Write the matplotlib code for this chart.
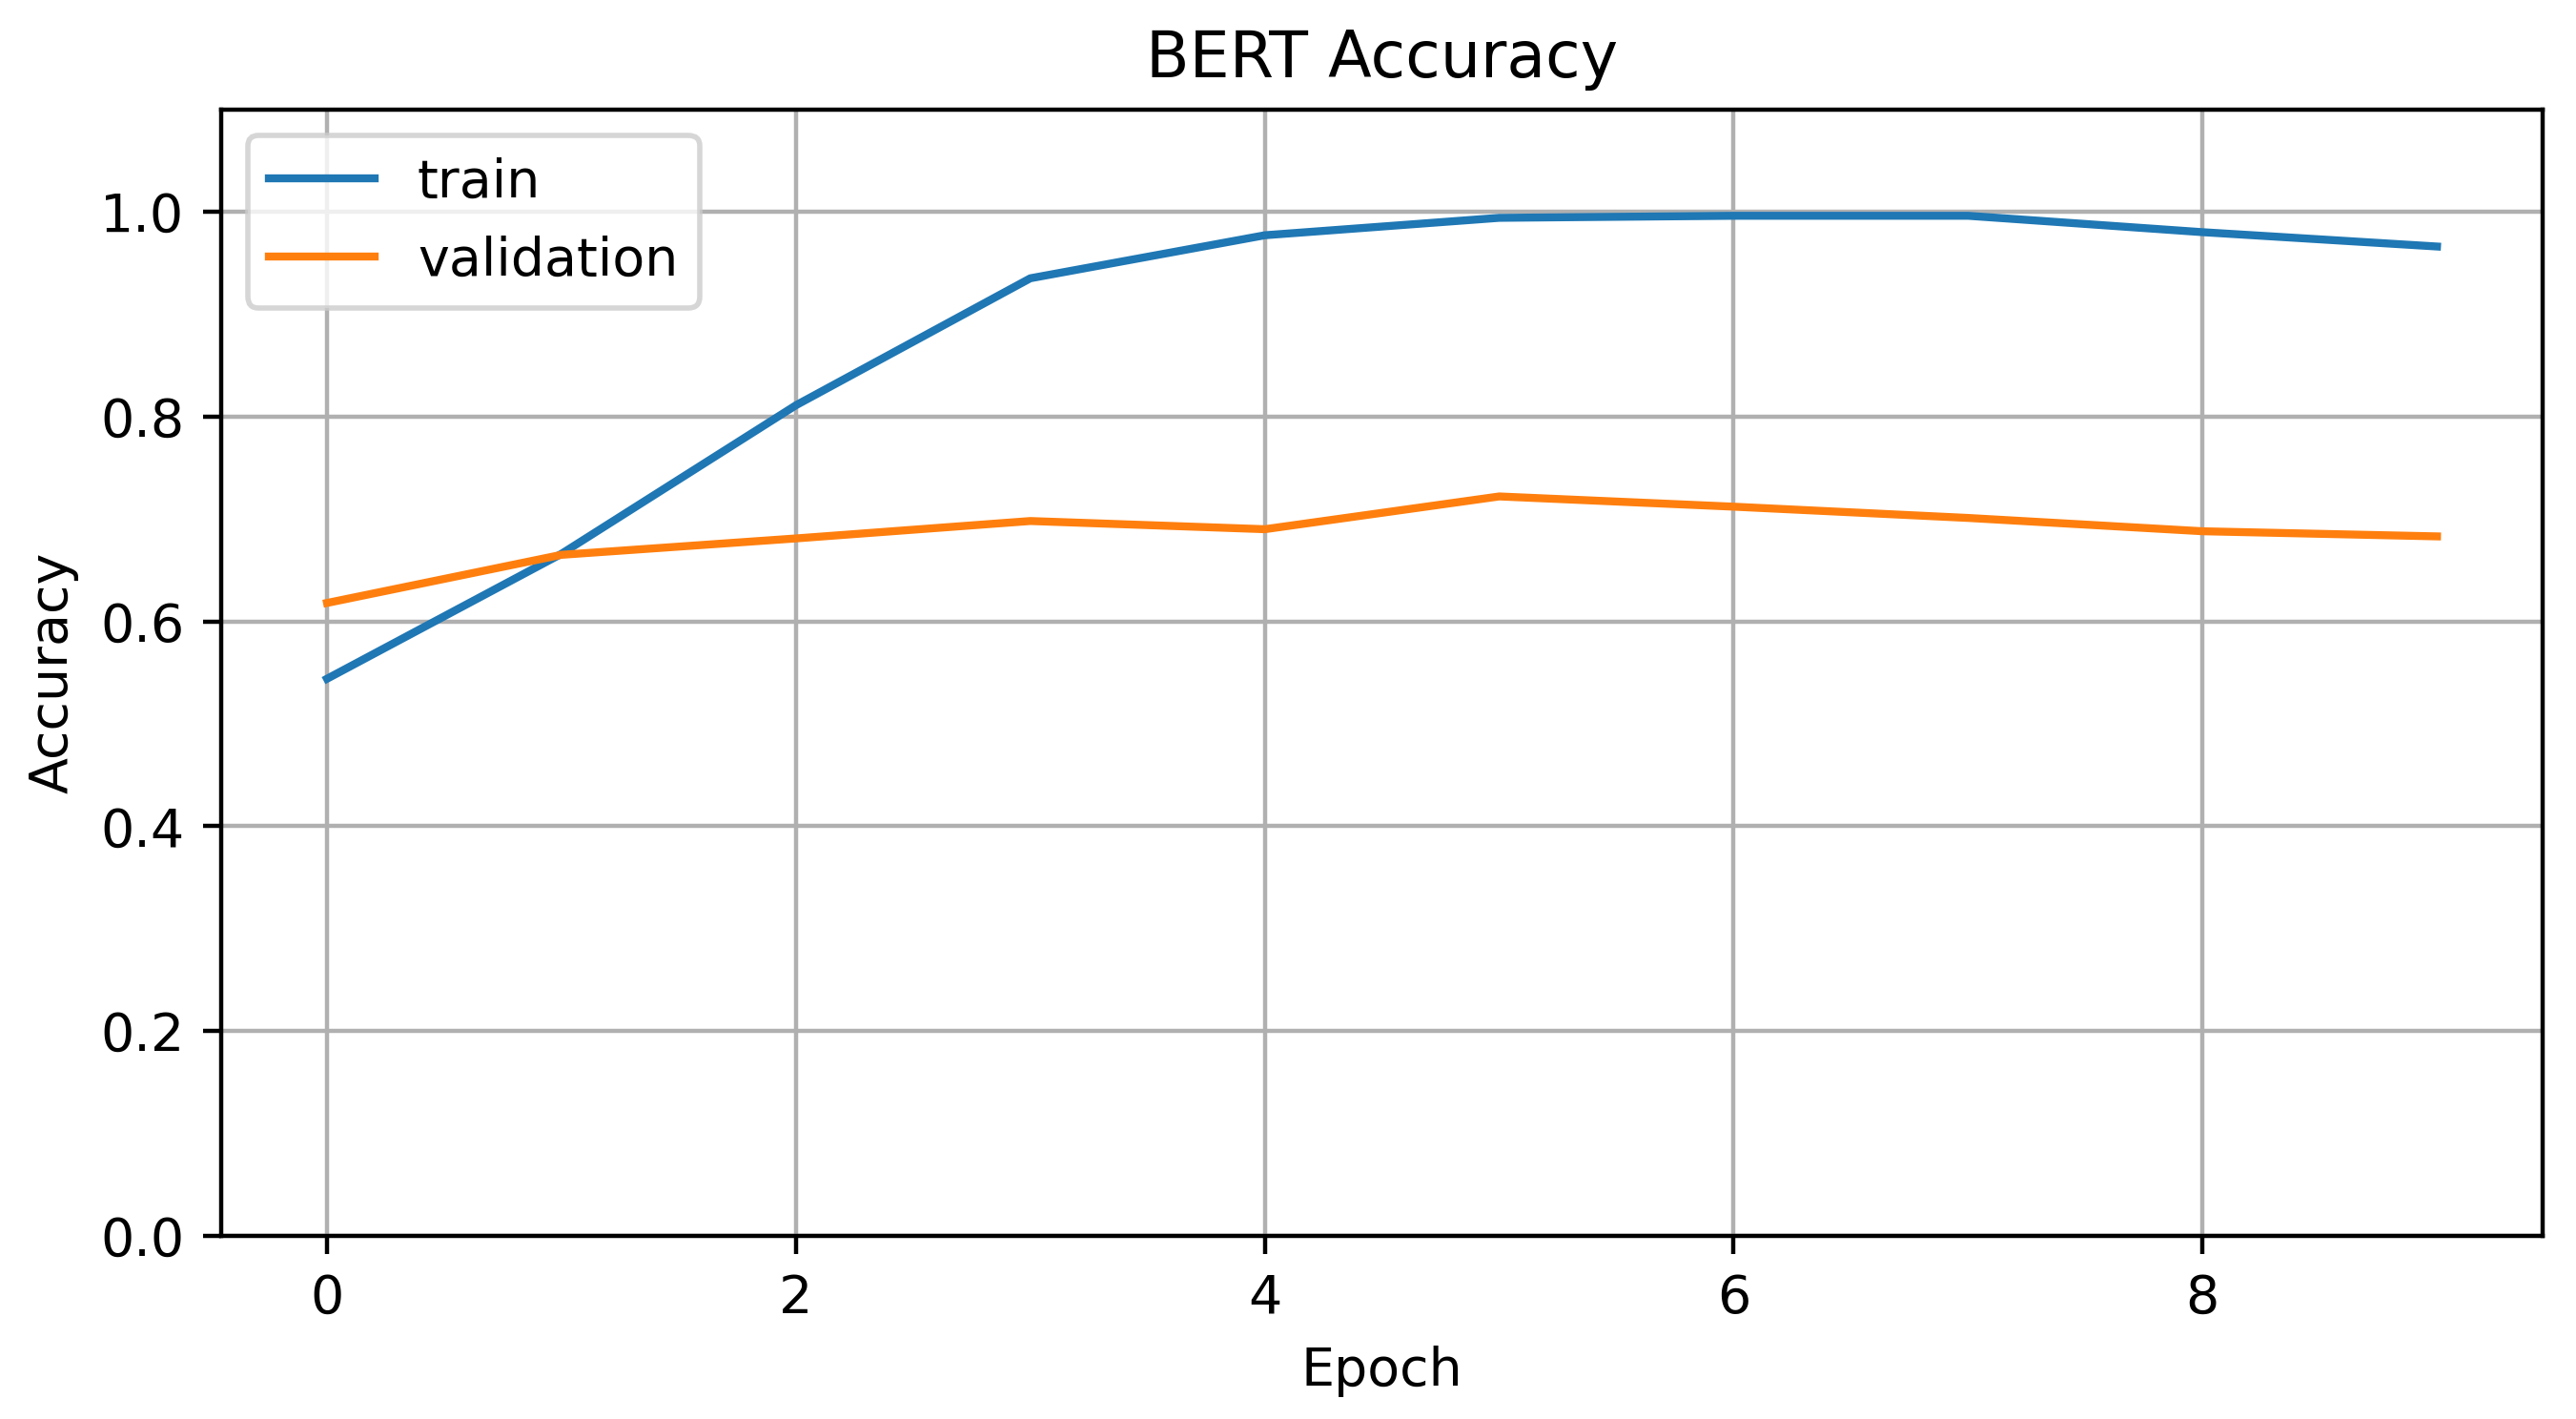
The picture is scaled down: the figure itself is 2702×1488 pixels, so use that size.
import matplotlib
matplotlib.use("Agg")
import matplotlib.pyplot as plt

epochs = list(range(10))
train_acc = [0.544, 0.666, 0.811, 0.935, 0.977, 0.994, 0.996, 0.996, 0.980, 0.966]
val_acc = [0.618, 0.665, 0.681, 0.698, 0.690, 0.722, 0.712, 0.701, 0.688, 0.683]

dpi = 400
fig = plt.figure(figsize=(2702 / dpi, 1488 / dpi), dpi=dpi)
ax = fig.add_axes([0.086, 0.129, 0.901, 0.794])
ax.plot(epochs, train_acc, label="train")
ax.plot(epochs, val_acc, label="validation")
ax.set_ylim(0, 1.1)
ax.set_yticks([0.0, 0.2, 0.4, 0.6, 0.8, 1.0])
ax.set_title("BERT Accuracy")
ax.set_xlabel("Epoch")
ax.set_ylabel("Accuracy")
ax.grid(True)
ax.legend(loc="upper left")
fig.savefig("out.png", dpi=dpi)
